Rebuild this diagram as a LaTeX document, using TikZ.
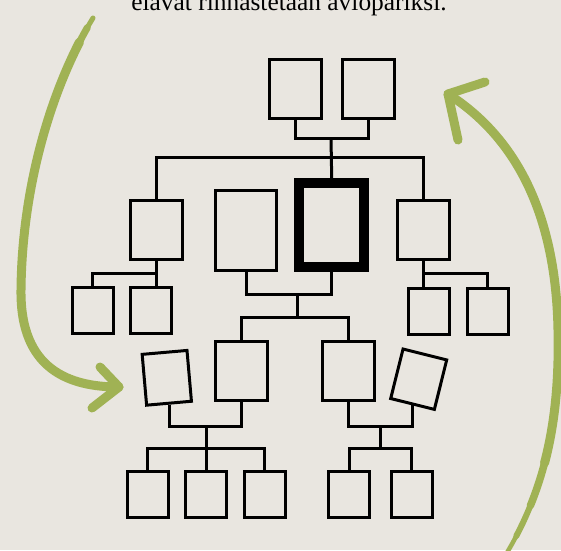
\documentclass[tikz,border=0pt]{standalone}
\usepackage{fontspec}
\setmainfont{Liberation Serif}
\definecolor{paper}{RGB}{233,230,224}
\definecolor{leaf}{RGB}{160,178,84}
\begin{document}
\begin{tikzpicture}[x=1pt,y=-1pt,
  member/.style={draw=black, line width=3pt, inner sep=0pt, rectangle},
  bigbox/.style={member, minimum width=52pt, minimum height=59pt},
  smallbox/.style={member, minimum width=41pt, minimum height=46pt},
  tiltbox/.style={member, minimum width=45pt, minimum height=51pt},
  link/.style={draw=black, line width=3pt},
  sweep/.style={draw=leaf, line width=9pt, line cap=round, line join=round}]

% page
\useasboundingbox (0,0) rectangle (561,550);
\clip (0,0) rectangle (561,550);
\fill[paper] (0,0) rectangle (561,550);

% caption line running off the top edge
\node[font=\fontsize{25.4}{30}\selectfont, anchor=base, inner sep=0pt] (caption)
  at (289,10.7) {elävät rinnastetaan aviopariksi.};

% grandparents
\node[bigbox] (gp1) at (295,89) {};
\node[bigbox] (gp2) at (368.5,89) {};

% parent generation
\node[bigbox] (aunt) at (156.5,230) {};
\node[member, minimum width=61pt, minimum height=80pt] (partner) at (246,230.5) {};
\node[member, line width=10pt, minimum width=65.5pt, minimum height=84.5pt] (ego) at (331.7,225.2) {};
\node[bigbox] (uncle) at (423.4,229.5) {};

% cousins
\node[smallbox] (cL1) at (92.7,310) {};
\node[smallbox] (cL2) at (151,310) {};
\node[smallbox] (cR1) at (429,311) {};
\node[smallbox] (cR2) at (487.5,311) {};

% children and their partners
\node[bigbox] (childL) at (241.7,371) {};
\node[bigbox] (childR) at (348.5,371) {};
\node[tiltbox, rotate=5] (inlawL) at (166.8,377.8) {};
\node[tiltbox, rotate=-14] (inlawR) at (418.7,379.2) {};

% grandchildren
\node[smallbox] (gk1) at (147.5,494.5) {};
\node[smallbox] (gk2) at (206,494.5) {};
\node[smallbox] (gk3) at (264.5,494.5) {};
\node[smallbox] (gk4) at (349,494.5) {};
\node[smallbox] (gk5) at (411.7,494.5) {};

% junction points of the family lines
\coordinate (gpj) at (331,138);
\coordinate (sib) at (331,157);
\coordinate (aj) at (156.5,273.5);
\coordinate (uj) at (423.4,273.5);
\coordinate (cj) at (297,294);
\coordinate (kb) at (297,317);
\coordinate (lj) at (206,426);
\coordinate (lk) at (206,448);
\coordinate (rj) at (380,426.5);
\coordinate (rk) at (380,448);

% family lines
\draw[link] (gp1.south) |- (gpj) -| (gp2.south);
\draw[link] (gpj) -- (ego.north);
\draw[link] (aunt.north) |- (sib) -| (uncle.north);
\draw[link] (aunt.south) -- (aunt.south |- cL2.north);
\draw[link] (cL1.north) |- (aj);
\draw[link] (uncle.south) -- (uncle.south |- cR1.north);
\draw[link] (cR2.north) |- (uj);
\draw[link] (partner.south) |- (cj) -| (ego.south);
\draw[link] (cj) -- (kb);
\draw[link] (childL.north) |- (kb) -| (childR.north);
\draw[link] (inlawL.south) |- (lj) -| (childL.south);
\draw[link] (lj) -- (lk);
\draw[link] (gk1.north) |- (lk) -| (gk3.north);
\draw[link] (lk) -- (gk2.north);
\draw[link] (childR.south) |- (rj) -| (inlawR.south);
\draw[link] (rj) -- (rk);
\draw[link] (gk4.north) |- (rk) -| (gk5.north);

% left green arrow: the stroke thickens away from its tail, each wider
% pass starting further along the same curve (split by de Casteljau)
\coordinate (ltail) at (93,18);
\coordinate (lmid) at (21,290);
\coordinate (ltip) at (119,387);
\coordinate (lbar1) at (100,367);
\coordinate (lbar2) at (92,408);
\draw[sweep, line width=5pt] (ltail) .. controls (55,80) and (22,180) .. (lmid)
  .. controls (20,370) and (70,387) .. (ltip);
\draw[sweep, line width=7pt] (87.34,27.58) .. controls (51.78,90.03) and (21.95,185.5) .. (lmid)
  .. controls (20,370) and (70,387) .. (ltip);
\draw[sweep] (79.58,41.91) .. controls (47.54,104.14) and (21.88,193.2) .. (lmid)
  .. controls (20,370) and (70,387) .. (ltip);
\draw[sweep] (lbar1) -- (ltip) -- (lbar2);

% right green arrow, thinning towards the bottom edge
\coordinate (rtail) at (505,556);
\coordinate (rmid) at (558,330);
\coordinate (rtip) at (448,94);
\coordinate (rbar1) at (485,82);
\coordinate (rbar2) at (458,140);
\draw[sweep, line width=4.5pt] (rtail) .. controls (545,490) and (560,420) .. (rmid)
  .. controls (556,220) and (520,140) .. (rtip);
\draw[sweep, line width=6pt] (516.26,536.06) .. controls (547.83,475.8) and (559.8,411) .. (rmid)
  .. controls (556,220) and (520,140) .. (rtip);
\draw[sweep, line width=7.5pt] (530.44,505.5) .. controls (551.44,453.75) and (559.5,397.5) .. (rmid)
  .. controls (556,220) and (520,140) .. (rtip);
\draw[sweep] (544.54,463.0) .. controls (555.06,422.95) and (559.1,379.5) .. (rmid)
  .. controls (556,220) and (520,140) .. (rtip);
\draw[sweep] (rbar1) -- (rtip) -- (rbar2);
\end{tikzpicture}
\end{document}
